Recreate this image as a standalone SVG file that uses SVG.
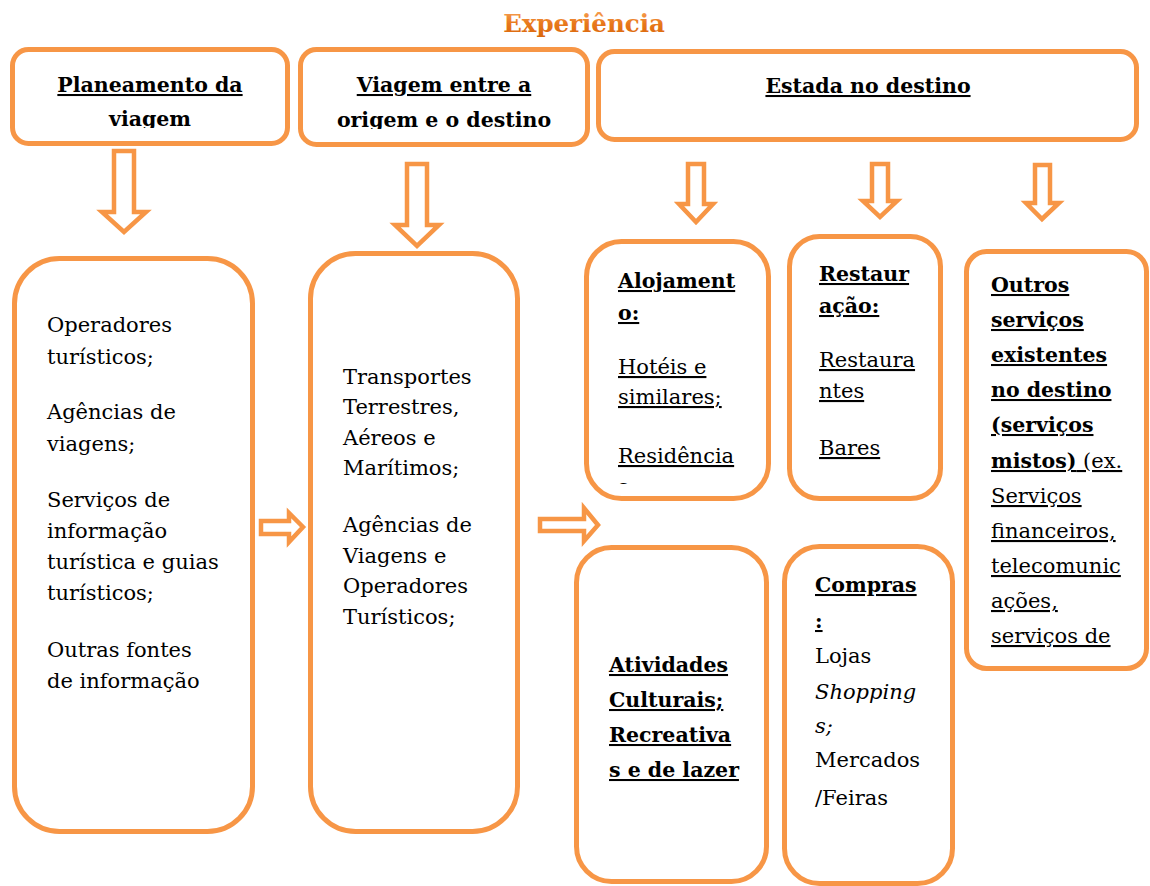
<svg xmlns="http://www.w3.org/2000/svg" width="1150" height="886" viewBox="0 0 1150 886">
<defs>
<style>
.box{fill:#fff;stroke:#F79646;stroke-width:5}
.arr{fill:#fff;stroke:#F79646;stroke-width:4.5;stroke-linejoin:miter}
.t{font-family:"DejaVu Serif","Liberation Serif","Times New Roman",serif;font-size:21px;fill:#000}
.ttl{font-family:"DejaVu Serif","Liberation Serif",serif;font-size:24.5px;font-weight:bold;fill:url(#tg);text-anchor:middle}
.b{font-weight:bold;font-size:20.5px}
.u{text-decoration:underline}
.i{font-style:italic}
.c{text-anchor:middle}
</style>
<linearGradient id="tg" x1="0" y1="0" x2="0" y2="1">
<stop offset="0" stop-color="#F9A55B"/>
<stop offset="0.5" stop-color="#E8781C"/>
<stop offset="1" stop-color="#D8650A"/>
</linearGradient>
<clipPath id="c1"><rect x="14" y="50" width="272" height="78"/></clipPath>
<clipPath id="c2"><rect x="302" y="50" width="284" height="79"/></clipPath>
<clipPath id="cC"><rect x="588" y="243" width="179" height="241"/></clipPath>
</defs>
<rect width="1150" height="886" fill="#fff"/>
<text x="584" y="32" class="ttl">Experiência</text>

<g id="n-planeamento">
<rect class="box" x="12.5" y="49.5" width="275" height="94" rx="16"/>
<text class="t b u c" clip-path="url(#c1)"><tspan x="150" y="92">Planeamento da</tspan><tspan x="150" y="126">viagem</tspan></text>
</g>
<g id="n-viagem">
<rect class="box" x="300.5" y="49.5" width="287" height="95" rx="16"/>
<text class="t b u c" clip-path="url(#c2)"><tspan x="444" y="92">Viagem entre a</tspan><tspan x="444" y="127">origem e o destino</tspan></text>
</g>
<g id="n-estada">
<rect class="box" x="598.5" y="51.5" width="538" height="88" rx="16"/>
<text class="t b u c" x="868" y="93">Estada no destino</text>
</g>

<g id="n-planeamento-lista">
<rect class="box" x="14.5" y="258.5" width="238" height="573" rx="45"/>
<text class="t"><tspan x="47" y="332">Operadores</tspan><tspan x="47" y="364">turísticos;</tspan><tspan x="47" y="419">Agências de</tspan><tspan x="47" y="451">viagens;</tspan><tspan x="47" y="507">Serviços de</tspan><tspan x="47" y="538">informação</tspan><tspan x="47" y="569">turística e guias</tspan><tspan x="47" y="600">turísticos;</tspan><tspan x="47" y="657">Outras fontes</tspan><tspan x="47" y="688">de informação</tspan></text>
</g>
<g id="n-transportes">
<rect class="box" x="310.5" y="253.5" width="207" height="578" rx="45"/>
<text class="t"><tspan x="343" y="384">Transportes</tspan><tspan x="343" y="414">Terrestres,</tspan><tspan x="343" y="445">Aéreos e</tspan><tspan x="343" y="475">Marítimos;</tspan><tspan x="343" y="532">Agências de</tspan><tspan x="343" y="563">Viagens e</tspan><tspan x="343" y="593">Operadores</tspan><tspan x="343" y="624">Turísticos;</tspan></text>
</g>
<g id="n-alojamento">
<rect class="box" x="586.5" y="241.5" width="182" height="257" rx="35"/>
<g clip-path="url(#cC)">
<text class="t b u"><tspan x="618" y="288">Alojament</tspan><tspan x="618" y="320">o:</tspan></text>
<text class="t u"><tspan x="618" y="374">Hotéis e</tspan><tspan x="618" y="404">similares;</tspan><tspan x="618" y="463">Residência</tspan><tspan x="618" y="494">s</tspan></text>
</g>
</g>
<g id="n-restauracao">
<rect class="box" x="789.5" y="236.5" width="151" height="262" rx="30"/>
<text class="t b u"><tspan x="819" y="281">Restaur</tspan><tspan x="819" y="313">ação:</tspan></text>
<text class="t u"><tspan x="819" y="367">Restaura</tspan><tspan x="819" y="398">ntes</tspan><tspan x="819" y="455">Bares</tspan></text>
</g>
<g id="n-outros">
<rect class="box" x="966.5" y="251.5" width="180" height="417" rx="20"/>
<text class="t b u"><tspan x="991" y="292">Outros</tspan><tspan x="991" y="327">serviços</tspan><tspan x="991" y="362">existentes</tspan><tspan x="991" y="397">no destino</tspan><tspan x="991" y="432">(serviços</tspan><tspan x="991" y="468">mistos)</tspan><tspan style="font-weight:normal;font-size:21px"> (ex.</tspan></text>
<text class="t u"><tspan x="991" y="503">Serviços</tspan><tspan x="991" y="538">financeiros,</tspan><tspan x="991" y="573">telecomunic</tspan><tspan x="991" y="608">ações,</tspan><tspan x="991" y="643">serviços de</tspan></text>
</g>
<g id="n-atividades">
<rect class="box" x="576.5" y="547.5" width="190" height="334" rx="35"/>
<text class="t b u"><tspan x="609" y="672">Atividades</tspan><tspan x="609" y="707">Culturais;</tspan><tspan x="609" y="742">Recreativa</tspan><tspan x="609" y="777">s e de lazer</tspan></text>
</g>
<g id="n-compras">
<rect class="box" x="784.5" y="546.5" width="168" height="337" rx="35"/>
<text class="t b u"><tspan x="815" y="592">Compras</tspan><tspan x="815" y="628">:</tspan></text>
<text class="t"><tspan x="815" y="663">Lojas</tspan><tspan x="815" y="699" class="i">Shopping</tspan><tspan x="815" y="733" class="i">s;</tspan><tspan x="815" y="767">Mercados</tspan><tspan x="815" y="805">/Feiras</tspan></text>
</g>

<g id="connectors">
<path class="arr" d="M114,151 L134,151 L134,212 L146,212 L124,232 L102,212 L114,212 Z"/>
<path class="arr" d="M407,164 L427,164 L427,225 L439,225 L417,246 L395,225 L407,225 Z"/>
<path class="arr" d="M688,164 L704,164 L704,204 L713,204 L696,222 L679,204 L688,204 Z"/>
<path class="arr" d="M872,164 L888,164 L888,201 L897,201 L880,217 L863,201 L872,201 Z"/>
<path class="arr" d="M1035,165 L1050,165 L1050,203 L1059,203 L1042,219 L1026,203 L1035,203 Z"/>
<path class="arr" d="M261,521 L289,521 L289,513 L303,527 L289,542 L289,534 L261,534 Z"/>
<path class="arr" d="M540,519 L584,519 L584,508 L598,525 L584,541 L584,531 L540,531 Z"/>
</g>
</svg>
